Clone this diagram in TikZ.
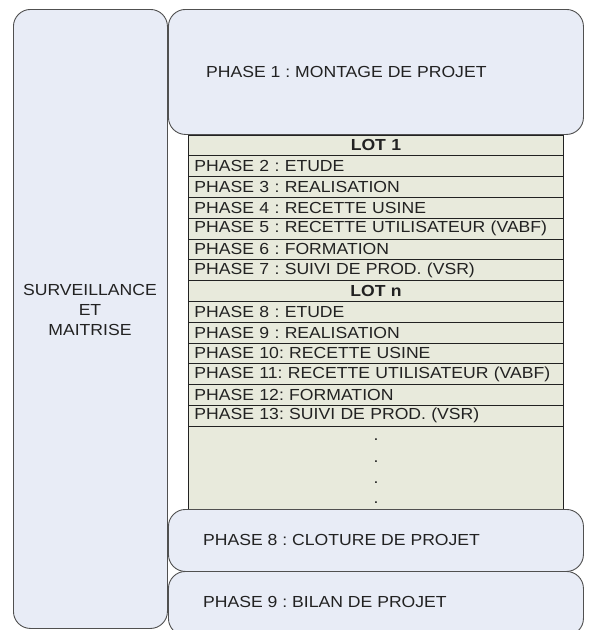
\documentclass[tikz,border=0pt]{standalone}
\usepackage{fontspec}
\setmainfont{Liberation Sans}[FakeStretch=1.1]
\definecolor{boxfill}{HTML}{E8ECF6}
\definecolor{tabfill}{HTML}{E8EADC}
\definecolor{edge}{HTML}{505050}
\definecolor{ink}{HTML}{222222}
\begin{document}
\frenchspacing
\begin{tikzpicture}[x=1pt,y=-1pt,
  txt/.style={font=\fontsize{16}{20}\selectfont, text=ink},
  bluebox/.style={draw=edge, line width=0.9pt, fill=boxfill, rounded corners=17pt, anchor=north west, inner sep=0pt},
  tabrow/.style={txt, draw=ink, line width=0.9pt, fill=tabfill, minimum height=20.8pt, text width=363pt, inner xsep=6pt, inner ysep=0pt, align=left, anchor=north west},
  lotrow/.style={tabrow, align=center, font=\fontsize{16}{20}\selectfont\bfseries},
  lbl/.style={txt, anchor=west, inner sep=0pt},
  dotmark/.style={txt, inner sep=0pt}
]
\clip (0,0) rectangle (589,630);
\fill[white] (0,0) rectangle (589,630);
% left box
\node[bluebox, minimum width=154pt, minimum height=619pt] (surv) at (13,9) {};
\node[txt, align=center] (survlbl) at (90,310) {SURVEILLANCE\\ET\\MAITRISE};
% table area
\node[tabrow, minimum height=90pt] (dots) at (188,425.7) {};
\foreach \i/\t in {1/PHASE 2 : ETUDE, 2/PHASE 3 : REALISATION, 3/PHASE 4 : RECETTE USINE, 4/PHASE 5 : RECETTE UTILISATEUR (VABF), 5/PHASE 6 : FORMATION, 6/PHASE 7 : SUIVI DE PROD. (VSR)}
  \node[tabrow] (a\i) at (188,{134.5+20.8*\i}) {\t};
\node[lotrow] (lot1) at (188,134.5) {LOT 1};
\node[lotrow] (lotn) at (188,{134.5+20.8*7}) {LOT n};
\foreach \i/\t in {8/PHASE 8 : ETUDE, 9/PHASE 9 : REALISATION, 10/PHASE 10: RECETTE USINE, 11/PHASE 11: RECETTE UTILISATEUR (VABF), 12/PHASE 12: FORMATION, 13/PHASE 13: SUIVI DE PROD. (VSR)}
  \node[tabrow] (b\i) at (188,{134.5+20.8*\i}) {\t};
\foreach \k/\yy in {1/440, 2/462, 3/483, 4/503}
  \node[dotmark] (dot\k) at (376,\yy) {.};
% top box
\node[bluebox, minimum width=415pt, minimum height=125pt] (p1) at (168,9) {};
\node[lbl] (p1lbl) at (206,72) {PHASE 1 : MONTAGE DE PROJET};
% bottom boxes
\node[bluebox, minimum width=415pt, minimum height=62pt] (p8) at (168,509) {};
\node[lbl] (p8lbl) at (203,540) {PHASE 8 : CLOTURE DE PROJET};
\node[bluebox, minimum width=415pt, minimum height=64pt] (p9) at (168,571) {};
\node[lbl] (p9lbl) at (203,602) {PHASE 9 : BILAN DE PROJET};
\end{tikzpicture}
\end{document}
